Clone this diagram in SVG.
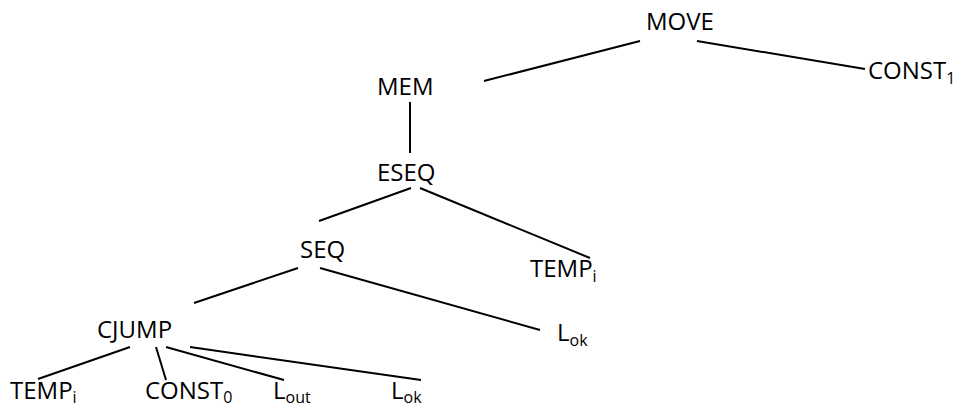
<svg xmlns="http://www.w3.org/2000/svg" width="965" height="408" viewBox="0 0 965 408">
<style>
text{font-family:"Open Sans","Liberation Sans",sans-serif;font-size:24px;fill:#000}
.s{font-size:16px}
line{stroke:#000;stroke-width:2}
</style>
<rect width="965" height="408" fill="#fff"/>
<g id="connectors">
<line x1="640" y1="41" x2="484" y2="81"/>
<line x1="697" y1="41" x2="865" y2="69"/>
<line x1="410" y1="102" x2="410" y2="153"/>
<line x1="411" y1="188" x2="319" y2="221"/>
<line x1="420" y1="188" x2="590" y2="258"/>
<line x1="298" y1="268" x2="194" y2="303"/>
<line x1="320" y1="268" x2="540" y2="330"/>
<line x1="130" y1="347" x2="38" y2="379"/>
<line x1="156" y1="347" x2="166" y2="380"/>
<line x1="166" y1="347" x2="284" y2="380"/>
<line x1="190" y1="347" x2="421" y2="380"/>
</g>
<g id="move"><text x="646" y="30">MOVE</text></g>
<g id="const1"><text x="868" y="79">CONST<tspan class="s" dy="5">1</tspan></text></g>
<g id="mem"><text x="377" y="95">MEM</text></g>
<g id="eseq"><text x="377" y="181">ESEQ</text></g>
<g id="seq"><text x="300" y="258">SEQ</text></g>
<g id="tempi-r"><text x="530" y="277">TEMP<tspan class="s" dy="5">i</tspan></text></g>
<g id="cjump"><text x="97" y="338">CJUMP</text></g>
<g id="lok-m"><text x="557" y="341">L<tspan class="s" dy="5">ok</tspan></text></g>
<g id="tempi-b"><text x="10" y="399">TEMP<tspan class="s" dy="4">i</tspan></text></g>
<g id="const0"><text x="145" y="399">CONST<tspan class="s" dy="4">0</tspan></text></g>
<g id="lout"><text x="273" y="399">L<tspan class="s" dy="4">out</tspan></text></g>
<g id="lok-b"><text x="391" y="399">L<tspan class="s" dy="4">ok</tspan></text></g>
</svg>
